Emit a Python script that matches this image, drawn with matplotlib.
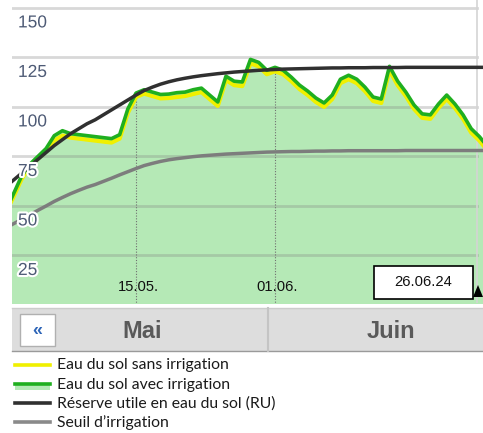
import numpy as np
import pandas as pd
import matplotlib
matplotlib.use("Agg")
import matplotlib.pyplot as plt
import matplotlib.dates as mdates
import matplotlib.patheffects as pe
from matplotlib.patches import Rectangle, Polygon
from matplotlib.lines import Line2D

# daily values, 29.04.2024 .. 27.06.2024
start = '2024-04-29'
avec = [47, 56, 65, 71, 75, 79, 85.5, 88, 86.5, 86,
        85.5, 85, 84.5, 84, 86, 99, 107, 108.7, 107.5, 106.3,
        106.5, 107.2, 107.5, 108.7, 109.5, 106, 102.5, 115.5, 113, 112.6,
        124, 122.5, 118.5, 120, 118.5, 115, 111, 108, 104.5, 102,
        106, 114, 116, 114, 110, 105, 104, 120.5, 113, 107.5,
        101, 96.5, 96, 101.5, 106, 101.5, 96, 89, 85, 80]
sans = [46, 54.5, 63.5, 70, 74, 77.5, 83, 85.5, 84.5, 84,
        83.5, 83, 82.5, 82, 84, 97, 105, 106.7, 105.5, 104.3,
        104.5, 105, 105.5, 106.5, 107.5, 104, 100.5, 113.5, 111, 110.5,
        122, 120.5, 116.5, 118, 116.5, 113, 109, 106, 102.5, 100,
        104, 112, 114, 112, 108, 103, 102, 118.5, 111, 105.5,
        99, 94.5, 94, 99.5, 104, 99.5, 94, 87, 83, 78]
ru = [59.5, 63, 66.5, 70, 73.5, 77, 80.5, 83.5, 86.5, 89,
      91.5, 93.5, 96, 98.5, 101, 103.5, 106, 108.3, 110, 111.5,
      112.7, 113.7, 114.5, 115.2, 115.8, 116.3, 116.8, 117.2, 117.6, 117.9,
      118.2, 118.5, 118.7, 118.9, 119.1, 119.2, 119.3, 119.4, 119.5, 119.6,
      119.7, 119.7, 119.8, 119.8, 119.8, 119.9, 119.9, 119.9, 119.9, 120,
      120, 120, 120, 120, 120, 120, 120, 120, 120, 120]
seuil = [38.7, 41, 43.2, 45.5, 47.8, 50, 52.3, 54.3, 56.2, 57.9,
         59.5, 60.8, 62.4, 64, 65.7, 67.3, 68.9, 70.4, 71.5, 72.5,
         73.3, 73.9, 74.4, 74.9, 75.3, 75.6, 75.9, 76.2, 76.4, 76.6,
         76.8, 77, 77.2, 77.3, 77.4, 77.5, 77.5, 77.6, 77.7, 77.7,
         77.8, 77.8, 77.9, 77.9, 77.9, 77.9, 77.9, 77.9, 77.9, 78,
         78, 78, 78, 78, 78, 78, 78, 78, 78, 78]
yticks = [25, 50, 75, 100, 125, 150]
xtick_dates = ['2024-05-15', '2024-06-01']
xtick_labels = ['15.05.', '01.06.']
today_label = '26.06.24'
months = ['Mai', 'Juin']
legend_labels = ['Eau du sol sans irrigation', 'Eau du sol avec irrigation',
                 'Réserve utile en eau du sol (RU)', 'Seuil d\u2019irrigation']

W, H = 483, 433
def fx(px): return px / W
def fy(py): return 1 - py / H

fig = plt.figure(figsize=(W / 100, H / 100), dpi=100)
ax = fig.add_axes([fx(12), fy(303), fx(483) - fx(12), fy(0) - fy(303)])
ax.axis('off')

dates = pd.date_range(start, periods=len(avec))
xd = mdates.date2num(dates)
may1 = mdates.date2num(pd.Timestamp('2024-05-01'))
ax.set_xlim(may1 - 1.17, may1 + 56.44)
ax.set_ylim(1, 154)

ax.fill_between(xd, 0, avec, color='#b5e9b6', lw=0, zorder=1)
for v in yticks:
    ax.axhline(v, xmin=0, xmax=0.987, color='#808080', alpha=0.3, lw=2, zorder=2)
ax.axvline(may1 + 55.7, color='#d4d4d4', lw=1.2, zorder=2)

for d, lab in zip(xtick_dates, xtick_labels):
    t = pd.Timestamp(d)
    i = (t - pd.Timestamp(start)).days
    x = mdates.date2num(t)
    ax.vlines(x, 0, avec[i], colors='#707070', linestyles=(0, (1, 1.5)), lw=0.8, zorder=2)
    ax.annotate(lab, xy=(x, 0), xycoords=('data', 'axes fraction'), xytext=(2, 16),
                textcoords='offset pixels', ha='center', va='center',
                fontsize=10.6, family='Liberation Sans', color='#111111', zorder=8)

ax.plot(xd, sans, color='#f0f000', lw=3, zorder=4, solid_joinstyle='round')
ax.plot(xd, avec, color='#1faf1f', lw=2.6, zorder=5, solid_joinstyle='round')
ax.plot(xd, seuil, color='#7d7d7d', lw=2.5, zorder=6)
ax.plot(xd, ru, color='#303030', lw=2.5, zorder=6)

for v in yticks:
    ax.annotate(str(v), xy=(6 / 471, v), xycoords=('axes fraction', 'data'), xytext=(0, -15),
                textcoords='offset pixels', ha='left', va='center', fontsize=12.5,
                family='Liberation Sans', color='#4d5a75', zorder=9,
                path_effects=[pe.withStroke(linewidth=3, foreground='white')])

# date box and marker
fig.add_artist(Rectangle((fx(374), fy(299)), fx(473) - fx(374), fy(266) - fy(299),
                         fc='white', ec='black', lw=1.2, transform=fig.transFigure, zorder=10))
fig.text(fx(423.5), fy(282.5), today_label, ha='center', va='center', fontsize=10.6,
         family='Liberation Sans', color='#111111', zorder=11)
fig.add_artist(Polygon([[fx(473), fy(297)], [fx(483), fy(297)], [fx(478), fy(285)]],
                       closed=True, fc='black', ec='none', transform=fig.transFigure, zorder=10))

# month navigation bar
fig.add_artist(Rectangle((fx(12), fy(351)), fx(483) - fx(12), fy(308) - fy(351),
                         fc='#dddddd', ec='none', transform=fig.transFigure))
fig.add_artist(Line2D([fx(12), fx(483)], [fy(308), fy(308)], color='#cccccc', lw=1))
fig.add_artist(Line2D([fx(12), fx(483)], [fy(351), fy(351)], color='#9a9a9a', lw=1))
fig.add_artist(Line2D([fx(268), fx(268)], [fy(308), fy(351)], color='#c4c4c4', lw=1.5))
fig.add_artist(Rectangle((fx(20), fy(346)), fx(55) - fx(20), fy(314) - fy(346),
                         fc='white', ec='#b0b0b0', lw=1, transform=fig.transFigure))
fig.text(fx(37.5), fy(330), '\u00ab', ha='center', va='center', fontsize=13,
         fontweight='bold', color='#2f66b8', family='Liberation Sans')
fig.text(fx(142), fy(331), months[0], ha='center', va='center', fontsize=17,
         fontweight='bold', color='#5a5a5a', family='Liberation Sans')
fig.text(fx(391), fy(331), months[1], ha='center', va='center', fontsize=17,
         fontweight='bold', color='#5a5a5a', family='Liberation Sans')

# legend
rows = [365, 384, 403, 422]
colors = ['#f0f000', '#1faf1f', '#303030', '#8a8a8a']
fig.add_artist(Rectangle((fx(15), fy(390)), fx(50) - fx(15), fy(385) - fy(390),
                         fc='#b5e9b6', ec='none', transform=fig.transFigure))
for y, c, lab in zip(rows, colors, legend_labels):
    fig.add_artist(Line2D([fx(15), fx(50)], [fy(y), fy(y)], color=c, lw=2.6))
    fig.text(fx(57), fy(y + 0.5), lab, ha='left', va='center', fontsize=11.3,
             family='Lato', color='#1a1a1a')

fig.savefig('out.png', dpi=100)
